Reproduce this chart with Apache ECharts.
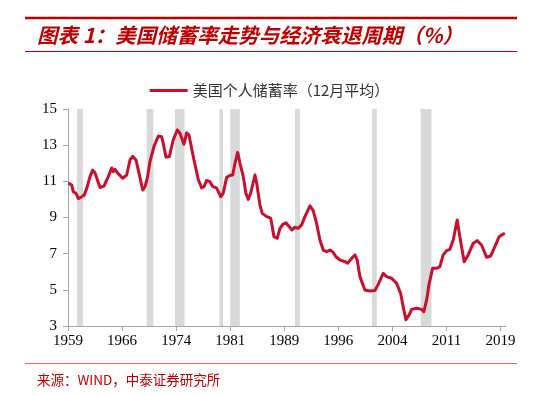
<!DOCTYPE html>
<html>
<head>
<meta charset="utf-8">
<title>美国储蓄率走势与经济衰退周期</title>
<script src="https://cdn.jsdelivr.net/npm/echarts@6/dist/echarts.min.js"></script>
<style>
  html, body { margin: 0; padding: 0; background: #fff; }
  #chart { width: 539px; height: 396px; }
</style>
</head>
<body>
<div id="chart"></div>
<script>
// personal saving rate, 12m average (%)
const years = [
  1959.04, 1959.51, 1959.73, 1960.11, 1960.43, 1960.90, 1961.26, 1961.59, 1962.05, 1962.42,
  1962.74, 1963.44, 1963.99, 1964.59, 1965.06, 1965.28, 1965.52, 1965.84, 1966.11, 1966.58,
  1967.14, 1967.60, 1967.97, 1968.43, 1968.75, 1969.36, 1969.68, 1970.00, 1970.37, 1970.92,
  1971.52, 1971.99, 1972.21, 1972.59, 1973.05, 1973.60, 1974.16, 1974.53, 1975.08, 1975.46,
  1975.78, 1976.37, 1977.07, 1977.54, 1977.86, 1978.23, 1978.69, 1979.06, 1979.62, 1980.17,
  1980.53, 1981.00, 1981.46, 1981.84, 1982.16, 1982.53, 1982.85, 1983.31, 1983.68, 1984.00,
  1984.33, 1984.93, 1985.17, 1985.62, 1985.94, 1986.55, 1987.11, 1987.25, 1987.56, 1988.02,
  1988.40, 1988.85, 1989.23, 1989.69, 1990.02, 1990.48, 1990.93, 1991.40, 1991.86, 1992.56,
  1993.01, 1993.48, 1993.94, 1994.40, 1994.87, 1995.33, 1995.70, 1996.16, 1996.72, 1997.41,
  1997.78, 1998.34, 1998.79, 1999.11, 1999.49, 2000.18, 2000.87, 2001.57, 2002.03, 2002.72,
  2003.19, 2003.88, 2004.58, 2005.13, 2005.49, 2005.87, 2006.32, 2006.66, 2007.35, 2008.04,
  2008.36, 2008.74, 2009.10, 2009.57, 2010.12, 2010.58, 2011.04, 2011.51, 2011.97, 2012.43,
  2012.98, 2013.35, 2013.95, 2014.50, 2015.20, 2015.75, 2016.36, 2017.06, 2017.61, 2018.21,
  2018.80, 2019.14, 2019.59
];
const rates = [
  10.90, 10.80, 10.43, 10.34, 10.04, 10.15, 10.25, 10.60, 11.26, 11.62,
  11.48, 10.66, 10.74, 11.26, 11.74, 11.53, 11.67, 11.48, 11.53, 11.17,
  11.35, 12.18, 12.38, 12.18, 11.63, 10.52, 10.70, 11.17, 12.09, 12.92,
  13.50, 13.47, 13.10, 12.34, 12.37, 13.29, 13.84, 13.66, 13.05, 13.68,
  13.56, 12.37, 11.10, 10.64, 10.70, 11.05, 10.98, 10.72, 10.62, 10.15,
  10.34, 11.22, 11.32, 11.35, 12.00, 12.60, 12.00, 11.26, 10.34, 10.00,
  10.34, 11.35, 10.90, 9.70, 9.23, 9.05, 8.96, 8.68, 7.94, 7.85,
  8.40, 8.64, 8.71, 8.49, 8.31, 8.46, 8.40, 8.59, 9.05, 9.64,
  9.38, 8.68, 7.76, 7.20, 7.11, 7.20, 7.11, 6.83, 6.65, 6.56,
  6.47, 6.74, 6.93, 6.65, 5.73, 4.99, 4.94, 4.96, 5.30, 5.91,
  5.73, 5.64, 5.36, 4.81, 4.07, 3.35, 3.61, 3.92, 3.98, 3.92,
  3.79, 4.44, 5.36, 6.19, 6.19, 6.28, 6.93, 7.17, 7.24, 7.76,
  8.86, 7.94, 6.56, 6.93, 7.57, 7.72, 7.48, 6.80, 6.87, 7.39,
  7.94, 8.03, 8.13
];
// NBER recessions (grey bands)
const recessionStart = ['1960-04', '1969-12', '1973-11', '1980-01', '1981-07', '1990-07', '2001-03', '2007-12'];
const recessionEnd   = ['1961-02', '1970-11', '1975-03', '1980-07', '1982-11', '1991-03', '2001-11', '2009-06'];
// one label every 90 months
const xLabels = ['1959', '1966', '1974', '1981', '1989', '1996', '2004', '2011', '2019'];

const BASE = 1959;
const fromYear = y => (y - BASE) * 12;
const fromYm = s => {
  const [y, m] = s.split('-').map(Number);
  return (y - BASE) * 12 + (m - 1);
};

const RED = '#c00000';
const LINE = '#c8102e';
const serif = '"Liberation Serif", "DejaVu Serif", serif';
const cjk = '"Noto Sans CJK SC", sans-serif';

const chart = echarts.init(document.getElementById('chart'));

chart.setOption({
  animation: false,
  backgroundColor: '#fff',
  grid: { left: 68, right: 33, top: 109, bottom: 70 },
  legend: {
    top: 78,
    left: 'center',
    icon: 'rect',
    itemWidth: 38,
    itemHeight: 3,
    itemGap: 6,
    textStyle: { fontSize: 15, color: '#333', fontFamily: cjk },
    data: ['美国个人储蓄率（12月平均）']
  },
  xAxis: {
    type: 'value',
    min: 0,
    max: 729,
    interval: 90,
    splitLine: { show: false },
    axisLine: { lineStyle: { color: '#a6a6a6', width: 1 } },
    axisTick: { show: true, length: 5, lineStyle: { color: '#a6a6a6' } },
    axisLabel: {
      margin: 8,
      fontSize: 15,
      color: '#000',
      fontFamily: serif,
      showMaxLabel: false,
      formatter: v => xLabels[Math.round(v / 90)] || ''
    }
  },
  yAxis: {
    type: 'value',
    min: 3,
    max: 15,
    interval: 2,
    splitLine: { show: false },
    axisLine: { show: true, lineStyle: { color: '#a6a6a6', width: 1 } },
    axisTick: { show: true, length: 5, lineStyle: { color: '#a6a6a6' } },
    axisLabel: { margin: 11, fontSize: 15, color: '#000', fontFamily: serif }
  },
  series: [{
    name: '美国个人储蓄率（12月平均）',
    type: 'line',
    showSymbol: false,
    color: LINE,
    lineStyle: { width: 3, color: LINE, join: 'round' },
    data: years.map((y, i) => [fromYear(y), rates[i]]),
    markArea: {
      silent: true,
      itemStyle: { color: '#d9d9d9' },
      data: recessionStart.map((s, i) => [{ xAxis: fromYm(s) }, { xAxis: fromYm(recessionEnd[i]) }])
    }
  }],
  graphic: [
    { type: 'line', shape: { x1: 25, y1: 18, x2: 517, y2: 18 }, style: { stroke: RED, lineWidth: 2.5 } },
    {
      type: 'text', left: 37, top: 25,
      style: { text: '图表 1：美国储蓄率走势与经济衰退周期（%）', fill: RED, font: 'italic bold 20.5px ' + cjk }
    },
    { type: 'line', shape: { x1: 25, y1: 51.5, x2: 517, y2: 51.5 }, style: { stroke: RED, lineWidth: 1 } },
    { type: 'line', shape: { x1: 25, y1: 363.5, x2: 517, y2: 363.5 }, style: { stroke: '#e06666', lineWidth: 1 } },
    {
      type: 'text', left: 37, top: 373,
      style: { text: '来源：WIND，中泰证券研究所', fill: RED, font: '13.5px ' + cjk }
    }
  ]
});
</script>
</body>
</html>
